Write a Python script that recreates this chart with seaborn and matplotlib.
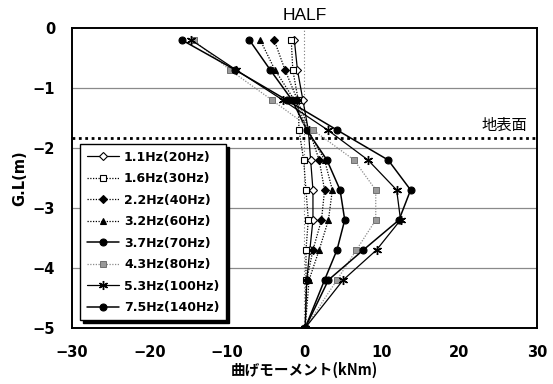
import matplotlib
matplotlib.use("Agg")
import matplotlib.pyplot as plt
import numpy as np
import pandas as pd
import seaborn as sns

# ---- data ----
depth = [-0.2, -0.7, -1.2, -1.7, -2.2, -2.7, -3.2, -3.7, -4.2, -5.0]
series_labels = ["1.1Hz(20Hz)", "1.6Hz(30Hz)", "2.2Hz(40Hz)", "3.2Hz(60Hz)",
                 "3.7Hz(70Hz)", "4.3Hz(80Hz)", "5.3Hz(100Hz)", "7.5Hz(140Hz)"]
m_1_1 = [-1.3, -0.9, -0.2, 0.5, 0.8, 1.1, 1.1, 0.7, 0.3, 0.1]
m_1_6 = [-1.7, -1.5, -0.8, -0.7, -0.1, 0.2, 0.5, 0.2, 0.2, 0.1]
m_2_2 = [-3.9, -2.5, -0.9, 0.6, 1.9, 2.6, 2.2, 1.1, 0.3, 0.1]
m_3_2 = [-5.7, -3.8, -1.3, 0.4, 2.6, 3.6, 3.1, 1.9, 0.6, 0.1]
m_3_7 = [-7.1, -4.4, -1.6, 0.3, 2.9, 4.6, 5.2, 4.2, 2.6, 0.1]
m_4_3 = [-14.3, -9.6, -4.2, 1.1, 6.4, 9.2, 9.2, 6.7, 4.2, 0.1]
m_5_3 = [-14.6, -8.8, -2.8, 3.0, 8.2, 11.9, 12.4, 9.3, 5.0, 0.1]
m_7_5 = [-15.8, -8.9, -2.3, 4.2, 10.8, 13.7, 12.2, 7.6, 3.1, 0.1]
series_values = [m_1_1, m_1_6, m_2_2, m_3_2, m_3_7, m_4_3, m_5_3, m_7_5]
ground_level = -1.83
x_ticks = [-30, -20, -10, 0, 10, 20, 30]
y_ticks = [0, -1, -2, -3, -4, -5]

# ---- styles ----
dot = (0, (1, 1.2))
styles = [
    dict(color="black", linestyle="-", lw=0.9, marker="D", ms=4, mfc="white", mec="black", mew=0.8),
    dict(color="black", linestyle=dot, lw=0.9, marker="s", ms=4.5, mfc="white", mec="black", mew=0.8),
    dict(color="black", linestyle=dot, lw=0.9, marker="D", ms=4, mfc="black", mec="black", mew=0.8),
    dict(color="black", linestyle=dot, lw=0.9, marker="^", ms=5, mfc="black", mec="black", mew=0.8),
    dict(color="black", linestyle="-", lw=1.1, marker="o", ms=5, mfc="black", mec="black", mew=0.8),
    dict(color="#8c8c8c", linestyle=dot, lw=0.9, marker="s", ms=4.5, mfc="#9a9a9a", mec="#707070", mew=0.7),
    dict(color="black", linestyle="-", lw=0.9, marker=(6, 2, 0), ms=6.5, mfc="black", mec="black", mew=1.0),
    dict(color="black", linestyle="-", lw=1.1, marker="o", ms=5, mfc="black", mec="black", mew=0.8),
]

sns.set_style("white")
plt.rcParams["font.family"] = ["DejaVu Sans", "Noto Sans CJK JP"]
plt.rcParams["text.color"] = "black"
plt.rcParams["axes.labelcolor"] = "black"
plt.rcParams["xtick.color"] = "black"
plt.rcParams["ytick.color"] = "black"

fig = plt.figure(figsize=(5.53, 3.84), dpi=100)
ax = fig.add_axes([0.130, 0.146, 0.841, 0.781])

for lab, vals, st in zip(series_labels, series_values, styles):
    df = pd.DataFrame({"moment": vals, "depth": depth})
    sns.lineplot(data=df, x="moment", y="depth", sort=False, estimator=None, ax=ax,
                 color=st["color"], linestyle=st["linestyle"], linewidth=st["lw"],
                 marker=st["marker"], markersize=st["ms"], markerfacecolor=st["mfc"],
                 markeredgecolor=st["mec"], markeredgewidth=st["mew"], label=lab)

ax.set_xlim(-30, 30)
ax.set_ylim(-5, 0)
ax.set_xticks(x_ticks)
ax.set_yticks(y_ticks)
ax.set_xticklabels([f"{t}".replace("-", "\u2212") for t in x_ticks], fontsize=10.5, fontweight="bold")
ax.set_yticklabels([f"{t}".replace("-", "\u2212") for t in y_ticks], fontsize=10.5, fontweight="bold")
ax.tick_params(axis="x", length=0, pad=12)
ax.tick_params(axis="y", length=0, pad=12)

for yv in [-1, -2, -3, -4]:
    ax.axhline(yv, color="#8a8a8a", lw=0.9, zorder=0)
ax.axvline(0, color="#777777", lw=0.8, linestyle=(0, (1, 2)), zorder=0)
ax.axhline(ground_level, color="black", lw=2.0, linestyle=(0, (1, 1.3)), zorder=1)
ax.text(28.8, ground_level + 0.07, "地表面", ha="right", va="bottom", fontsize=11,
        family=["Noto Sans CJK JP", "DejaVu Sans"])

for sp in ax.spines.values():
    sp.set_color("black")
    sp.set_linewidth(1.4)
    sp.set_visible(True)

ax.set_title("HALF", fontsize=12.5, family=["Liberation Sans", "DejaVu Sans"], pad=6)
ax.set_xlabel("曲げモーメント(kNm)", fontsize=10.5, fontweight="bold",
              family=["Noto Sans CJK JP", "DejaVu Sans"], labelpad=1.5)
ax.set_ylabel("G.L(m)", fontsize=10.5, fontweight="bold", labelpad=4)

leg = ax.legend(loc="lower left", bbox_to_anchor=(0.018, 0.025), frameon=True,
                fancybox=False, shadow={"color": "black", "alpha": 1.0},
                fontsize=9, handlelength=2.6, labelspacing=0.68, borderpad=0.5,
                handletextpad=0.4, borderaxespad=0)
leg.get_frame().set_edgecolor("black")
leg.get_frame().set_linewidth(1.0)
for t in leg.get_texts():
    t.set_fontweight("bold")

fig.savefig("out.png", dpi=100)
